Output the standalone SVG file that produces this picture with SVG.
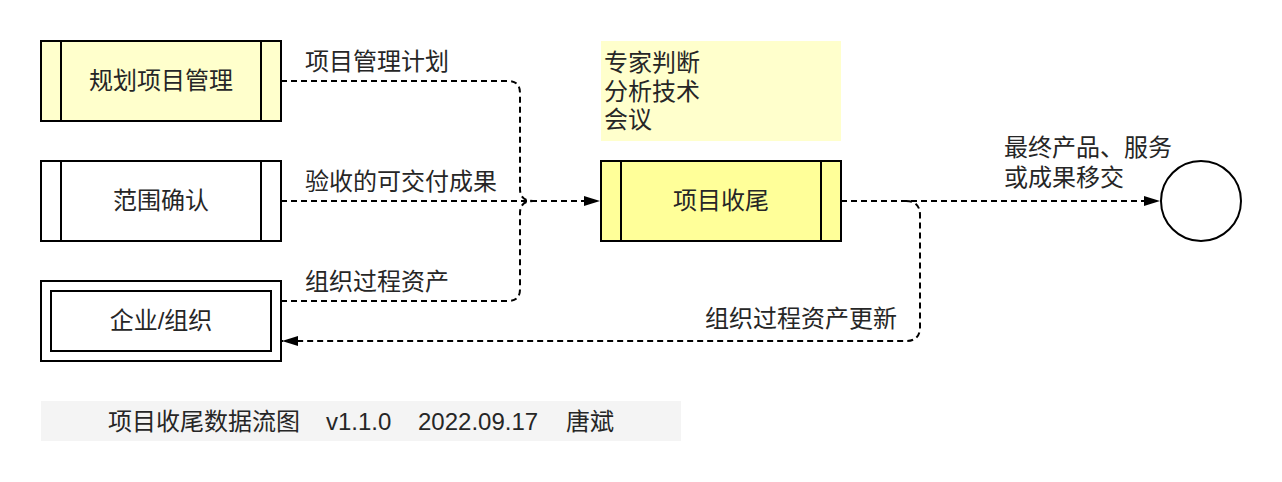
<svg xmlns="http://www.w3.org/2000/svg" width="1282" height="482" viewBox="0 0 1282 482">
<style>
text{font-family:"Liberation Sans","Noto Sans CJK SC",sans-serif;font-size:24px;fill:#262626}
.mid{text-anchor:middle}
.box{stroke:#000;stroke-width:2}
.conn{fill:none;stroke:#000;stroke-width:2;stroke-dasharray:6 4}
</style>
<defs>
<marker id="arr" markerUnits="userSpaceOnUse" markerWidth="16" markerHeight="12" refX="16" refY="6" orient="auto">
<path d="M0,1 L16,6 L0,11 Z" fill="#000" stroke="none"/>
</marker>
</defs>
<rect width="1282" height="482" fill="#fff"/>
<g id="n-plan">
<rect class="box" x="41" y="41" width="240" height="80" fill="#FFFFCC"/>
<line class="box" x1="61" y1="41" x2="61" y2="121"/>
<line class="box" x1="261" y1="41" x2="261" y2="121"/>
<text class="mid" x="161" y="89">规划项目管理</text>
</g>
<g id="n-scope">
<rect class="box" x="41" y="161" width="240" height="80" fill="#fff"/>
<line class="box" x1="61" y1="161" x2="61" y2="241"/>
<line class="box" x1="261" y1="161" x2="261" y2="241"/>
<text class="mid" x="161" y="209">范围确认</text>
</g>
<g id="n-org">
<rect class="box" x="41" y="281" width="240" height="80" fill="#fff"/>
<rect class="box" x="51" y="291" width="220" height="60" fill="#fff"/>
<text class="mid" x="161" y="329">企业/组织</text>
</g>
<g id="n-tools">
<rect x="601" y="41" width="240" height="100" fill="#FFFFCC"/>
<text x="604" y="71">专家判断</text>
<text x="604" y="100">分析技术</text>
<text x="604" y="128">会议</text>
</g>
<g id="n-close">
<rect class="box" x="601" y="161" width="240" height="80" fill="#FFFF99"/>
<line class="box" x1="621" y1="161" x2="621" y2="241"/>
<line class="box" x1="821" y1="161" x2="821" y2="241"/>
<text class="mid" x="721" y="209">项目收尾</text>
</g>
<g id="n-end">
<circle class="box" cx="1201" cy="201" r="40" fill="#fff"/>
</g>
<g id="connectors">
<path class="conn" d="M281,81 H508 Q520,81 520,93 V189 Q520,201 533,201"/>
<path class="conn" d="M281,301 H508 Q520,301 520,289 V213 Q520,201 533,201"/>
<path class="conn" d="M281,201 H600" marker-end="url(#arr)"/>
<path class="conn" d="M841,201 H1160" marker-end="url(#arr)"/>
<path class="conn" d="M906,201 Q920,201 920,215 V327 Q920,341 906,341 H282" marker-end="url(#arr)"/>
<text x="305" y="70">项目管理计划</text>
<text x="305" y="190">验收的可交付成果</text>
<text x="305" y="290">组织过程资产</text>
<text x="1004" y="156">最终产品、服务</text>
<text x="1004" y="186">或成果移交</text>
<text x="705" y="327">组织过程资产更新</text>
</g>
<g id="footer">
<rect x="41" y="401" width="640" height="40" fill="#F4F4F4"/>
<text y="430"><tspan x="108">项目收尾数据流图</tspan><tspan x="326">v1.1.0</tspan><tspan x="418">2022.09.17</tspan><tspan x="566">唐斌</tspan></text>
</g>
</svg>
